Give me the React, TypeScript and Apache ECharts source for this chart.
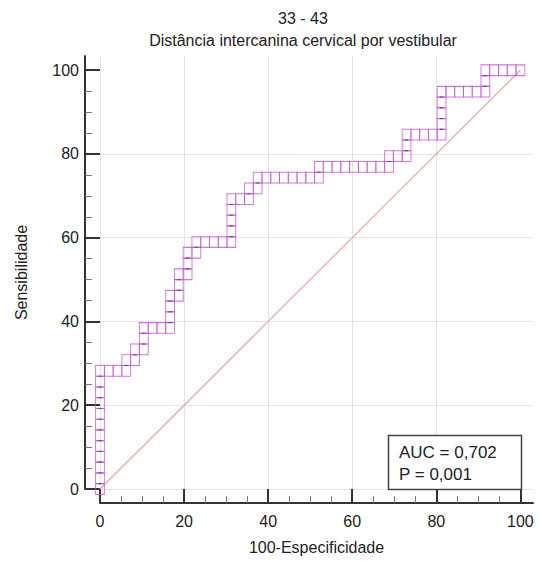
import React, { useEffect, useRef } from "react";
import * as echarts from "echarts";

// Chart texts
const titleLines = ["33 - 43", "Distância intercanina cervical por vestibular"];
const xAxisName = "100-Especificidade";
const yAxisName = "Sensibilidade";
const pValueText = "P = 0,001";

// Axis tick values (percent)
const tickValues = [0, 20, 40, 60, 80, 100];

// Group sizes
const negativeCases = 48;
const positiveCases = 39;

// ROC staircase: [false positives, true positives] at every case step
const rocSteps: [number, number][] = [
  [0, 0], [0, 1], [0, 2], [0, 3], [0, 4], [0, 5], [0, 6], [0, 7], [0, 8], [0, 9], [0, 10], [0, 11],
  [1, 11], [2, 11], [3, 11], [3, 12], [4, 12], [4, 13], [5, 13], [5, 14], [5, 15],
  [6, 15], [7, 15], [8, 15], [8, 16], [8, 17], [8, 18], [9, 18], [9, 19], [9, 20],
  [10, 20], [10, 21], [10, 22], [11, 22], [11, 23], [12, 23], [13, 23], [14, 23], [15, 23],
  [15, 24], [15, 25], [15, 26], [15, 27], [16, 27], [17, 27], [17, 28], [18, 28], [18, 29],
  [19, 29], [20, 29], [21, 29], [22, 29], [23, 29], [24, 29], [25, 29], [25, 30],
  [26, 30], [27, 30], [28, 30], [29, 30], [30, 30], [31, 30], [32, 30], [33, 30], [33, 31],
  [34, 31], [35, 31], [35, 32], [35, 33], [36, 33], [37, 33], [38, 33], [39, 33],
  [39, 34], [39, 35], [39, 36], [39, 37], [40, 37], [41, 37], [42, 37], [43, 37], [44, 37],
  [44, 38], [44, 39], [45, 39], [46, 39], [47, 39], [48, 39],
];

// Chance diagonal end points
const chanceStart = [0, 0];
const chanceEnd = [100, 100];

const FONT = "'Liberation Sans', Arial, Helvetica, sans-serif";
const TEXT = "#222";
const AXIS = "#333";
const GRID = "#e4e4e4";
const MARKER = "#c452d6";
const CELL_W = 8.8;
const CELL_H = 10.7;

export default function App() {
  const ref = useRef<HTMLDivElement>(null);

  useEffect(() => {
    if (!ref.current) return;
    const chart = echarts.init(ref.current, null, { renderer: "svg" });

    const points = rocSteps.map(([fp, tp]) => [
      (fp / negativeCases) * 100,
      (tp / positiveCases) * 100,
    ]);
    // steps where sensitivity rises get a small mark on the shared edge
    const risePoints = points.filter(
      (_, i) => i > 0 && rocSteps[i][1] > rocSteps[i - 1][1]
    );

    let area = 0;
    for (let i = 1; i < rocSteps.length; i++) {
      area +=
        ((rocSteps[i][0] - rocSteps[i - 1][0]) *
          (rocSteps[i][1] + rocSteps[i - 1][1])) /
        2;
    }
    const auc = area / (negativeCases * positiveCases);
    const aucText = `AUC = ${auc.toFixed(3).replace(".", ",")}`;

    const axisCommon = (offset: number, tickLen: number) => ({
      type: "value" as const,
      min: 0,
      interval: 20,
      offset,
      axisLine: { show: true, onZero: false, lineStyle: { color: AXIS, width: 2 } },
      axisTick: {
        show: true,
        inside: true,
        length: tickLen,
        customValues: tickValues,
        lineStyle: { color: AXIS, width: 2 },
      },
      minorTick: {
        show: true,
        splitNumber: 4,
        length: 7,
        lineStyle: { color: "#777", width: 1 },
      },
      splitLine: {
        show: true,
        showMaxLine: false,
        lineStyle: { color: GRID, width: 1 },
      },
      minorSplitLine: { show: false },
      nameLocation: "middle" as const,
      nameTextStyle: { fontSize: 16, color: TEXT, fontFamily: FONT },
    });

    chart.setOption({
      animation: false,
      backgroundColor: "#fff",
      grid: { left: 100, right: 6, top: 56, bottom: 72 },
      xAxis: {
        ...axisCommon(14, 14),
        max: 103,
        name: xAxisName,
        nameGap: 36,
        axisLabel: {
          customValues: tickValues,
          margin: 10,
          fontSize: 16,
          color: TEXT,
          fontFamily: FONT,
          formatter: (v: number) => (v % 20 === 0 ? String(v) : ""),
        },
      },
      yAxis: {
        ...axisCommon(15, 15),
        max: 103.4,
        name: yAxisName,
        nameGap: 56,
        axisLabel: {
          customValues: tickValues,
          margin: 6,
          fontSize: 16,
          color: TEXT,
          fontFamily: FONT,
          formatter: (v: number) => (v % 20 === 0 ? String(v) : ""),
        },
      },
      series: [
        {
          type: "scatter",
          data: points,
          symbol: "rect",
          symbolSize: [CELL_W, CELL_H],
          silent: true,
          itemStyle: {
            color: "rgba(255,255,255,0)",
            borderColor: MARKER,
            borderWidth: 1,
          },
          markLine: {
            silent: true,
            symbol: "none",
            label: { show: false },
            lineStyle: { color: "#eb9f98", width: 1.1, type: "solid" },
            data: [[{ coord: chanceStart }, { coord: chanceEnd }]],
            z: 1,
          },
          z: 2,
        },
        {
          type: "scatter",
          data: risePoints,
          symbol: "rect",
          symbolSize: [3, 1.2],
          symbolOffset: [0, CELL_H / 2],
          silent: true,
          itemStyle: { color: "#5a3a9c" },
          z: 3,
        },
      ],
      graphic: [
        {
          type: "text",
          x: 303,
          y: 18,
          z: 100,
          style: {
            text: titleLines[0],
            align: "center",
            verticalAlign: "middle",
            fontSize: 16,
            fill: TEXT,
            fontFamily: FONT,
          },
        },
        {
          type: "text",
          x: 303,
          y: 40,
          z: 100,
          style: {
            text: titleLines[1],
            align: "center",
            verticalAlign: "middle",
            fontSize: 16,
            fill: TEXT,
            fontFamily: FONT,
          },
        },
        {
          type: "rect",
          z: 100,
          shape: { x: 388.5, y: 435.5, width: 133, height: 54 },
          style: { fill: "#fff", stroke: "#444", lineWidth: 1.5 },
        },
        {
          type: "text",
          x: 399,
          y: 452,
          z: 101,
          style: {
            text: aucText,
            verticalAlign: "middle",
            fontSize: 17,
            fill: TEXT,
            fontFamily: FONT,
          },
        },
        {
          type: "text",
          x: 399,
          y: 474,
          z: 101,
          style: {
            text: pValueText,
            verticalAlign: "middle",
            fontSize: 17,
            fill: TEXT,
            fontFamily: FONT,
          },
        },
      ],
    });

    return () => chart.dispose();
  }, []);

  return (
    <div
      ref={ref}
      style={{ position: "fixed", left: 0, top: 0, width: 539, height: 561 }}
    />
  );
}
